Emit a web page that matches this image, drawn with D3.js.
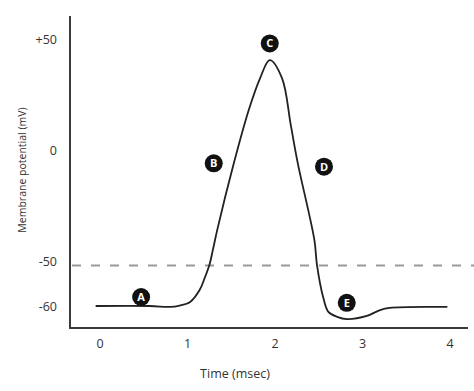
<!DOCTYPE html>
<html>
<head>
<meta charset="utf-8">
<script src="https://cdn.jsdelivr.net/npm/d3@7"></script>
<style>
  body { margin: 0; background: #fff; }
  text { font-family: "Open Sans", sans-serif; fill: #333; }
</style>
</head>
<body>
<div id="chart"></div>
<script>
// time (msec) and membrane potential (mV)
let time = [-0.05, 0.57, 0.8, 0.91, 1.03, 1.14, 1.2, 1.25, 1.29, 1.34, 1.53, 1.7, 1.83, 1.94,
            2.08, 2.18, 2.26, 2.45, 2.48, 2.55, 2.61, 2.71, 2.82, 3.05, 3.2, 3.31, 3.97]
let potential = [-60, -60, -60.2, -59.9, -59.1, -56.4, -53.6, -50.9, -45, -36, -5.9, 18, 32.4, 40.5,
                 32.4, 11.3, -5.9, -40.5, -50.9, -58, -61.3, -62.4, -62.9, -62.2, -60.9, -60.4, -60.2]
let threshold = -51
let xTicks = [0, 1, 2, 3, 4]
let yTicks = [50, 0, -50, -60]
let yTickLabels = ["+50", "0", "-50", "-60"]
let marks = [
    {name: "A", t: 0.47, v: -58},
    {name: "B", t: 1.30, v: -6},
    {name: "C", t: 1.94, v: 48},
    {name: "D", t: 2.56, v: -7.5},
    {name: "E", t: 2.82, v: -59.3}
]

let width = 474, height = 391

let svg = d3.select("#chart")
    .append("svg")
        .attr("width", width)
        .attr("height", height)

let xScale = d3.scaleLinear().domain([0, 4]).range([100, 450])
// the picture squeezes the -50..50 range, so the scale is piecewise
let yScale = d3.scaleLinear().domain([-60, -50, 50]).range([306, 261, 39])

// axes, drawn as plain lines like the original
svg.append("line")
    .attr("x1", 70).attr("x2", 70)
    .attr("y1", 16).attr("y2", 328)
    .attr("stroke", "#3a3a3a").attr("stroke-width", 2)

svg.append("line")
    .attr("x1", 69).attr("x2", 468)
    .attr("y1", 328).attr("y2", 328)
    .attr("stroke", "#3a3a3a").attr("stroke-width", 2)

svg.selectAll(".xtick")
    .data(xTicks)
    .enter()
    .append("text")
        .attr("class", "xtick")
        .attr("x", d => xScale(d))
        .attr("y", 348)
        .attr("text-anchor", "middle")
        .style("font-size", "12.5px")
        .text(d => d)

svg.selectAll(".ytick")
    .data(yTicks)
    .enter()
    .append("text")
        .attr("class", "ytick")
        .attr("x", 57)
        .attr("y", d => yScale(d) + 4.5)
        .attr("text-anchor", "end")
        .style("font-size", "12.5px")
        .text((d, i) => yTickLabels[i])

svg.append("text")
    .attr("x", 235)
    .attr("y", 378)
    .attr("text-anchor", "middle")
    .style("font-size", "12.5px")
    .text("Time (msec)")

svg.append("text")
    .attr("transform", "translate(26,170) rotate(-90)")
    .attr("text-anchor", "middle")
    .style("font-size", "10.5px")
    .text("Membrane potential (mV)")

// threshold
svg.append("line")
    .attr("x1", 72).attr("x2", width)
    .attr("y1", yScale(threshold)).attr("y2", yScale(threshold))
    .attr("stroke", "#999").attr("stroke-width", 2)
    .attr("stroke-dasharray", "9,10")

let data = time.map((t, i) => ({t: t, v: potential[i]}))

let line = d3.line()
    .x(d => xScale(d.t))
    .y(d => yScale(d.v))
    .curve(d3.curveCatmullRom.alpha(0.5))

svg.append("path")
    .datum(data)
    .attr("d", line)
    .attr("fill", "none")
    .attr("stroke", "#222")
    .attr("stroke-width", 1.8)

let g = svg.selectAll(".mark")
    .data(marks)
    .enter()
    .append("g")
        .attr("class", "mark")
        .attr("transform", d => `translate(${xScale(d.t)},${yScale(d.v)})`)

g.append("circle")
    .attr("r", 9)
    .attr("fill", "#111")

g.append("text")
    .attr("y", 4)
    .attr("text-anchor", "middle")
    .style("font-size", "11px")
    .style("font-weight", "bold")
    .style("fill", "#fff")
    .text(d => d.name)
</script>
</body>
</html>
